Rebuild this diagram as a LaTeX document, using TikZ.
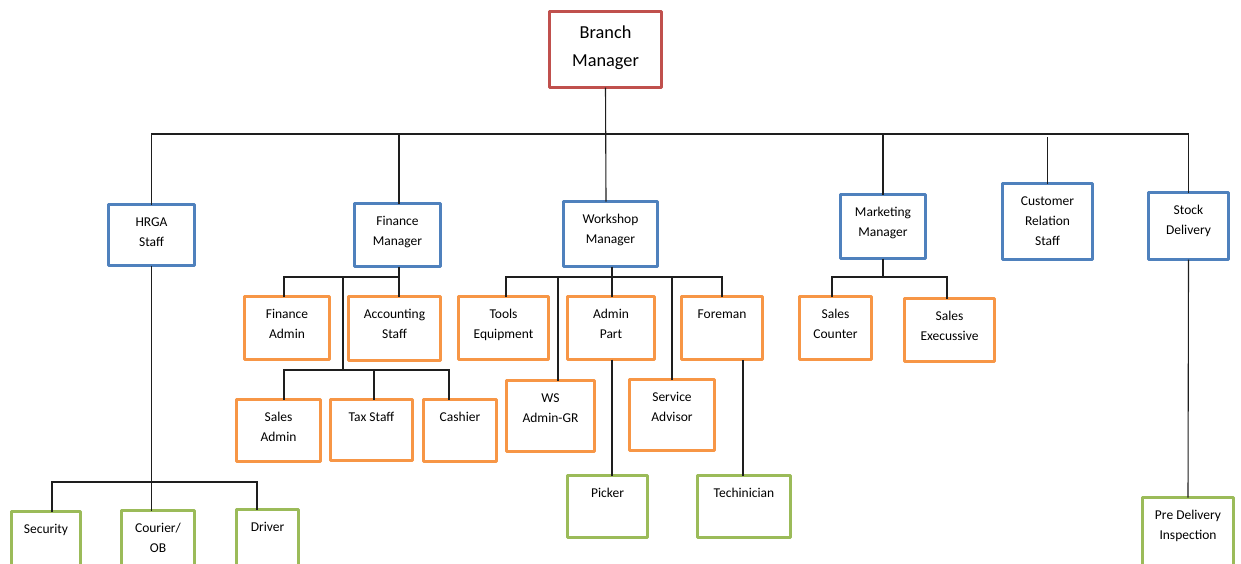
\documentclass[tikz,border=0pt]{standalone}
\usepackage{fontspec}
\setmainfont{Carlito}
\definecolor{cred}{RGB}{192,80,77}
\definecolor{cblue}{RGB}{79,129,189}
\definecolor{corange}{RGB}{247,150,70}
\definecolor{cgreen}{RGB}{155,187,89}
\definecolor{cline}{RGB}{30,30,30}
\newcommand\toppad{7.8pt}
\newcommand\orgbox[7]{%
  \pgfmathsetmacro\bw{#5-#3-3}\pgfmathsetmacro\bh{#6-#4-3}%
  \node[#2] (#1) at ({(#3+#5)/2},{(#4+#6)/2})
    {\parbox[c][\bh pt][t]{\bw pt}{\centering\vspace*{\toppad}\strut #7}};}
\tikzset{
  basebox/.style={draw, line width=3pt, line join=round, inner sep=0pt, outer sep=0pt,
    fill=white, text=black, font=\fontsize{13.5}{20}\selectfont},
  redbox/.style={basebox, draw=cred, font=\fontsize{18.3}{28}\selectfont},
  bluebox/.style={basebox, draw=cblue},
  orangebox/.style={basebox, draw=corange},
  greenbox/.style={basebox, draw=cgreen},
  conn/.style={draw=cline, line width=1.1pt}
}
\begin{document}
\begin{tikzpicture}[x=1pt,y=-1pt]
\useasboundingbox (0,0) rectangle (1241,563);
\fill[white] (0,0) rectangle (1241,563);
% junction coordinates
\coordinate (bus) at (0,134);
\coordinate (fbus) at (0,277);
\coordinate (fj2) at (343,370);
\coordinate (fj1) at (343,277);
\coordinate (hbus) at (0,482);
% boxes
\orgbox{bm}{redbox}{548}{10}{663}{89}{Branch\\Manager}
\orgbox{hr}{bluebox}{107}{203}{196}{267}{HRGA\\Staff}
\orgbox{fm}{bluebox}{353}{202}{442}{268}{Finance\\Manager}
\orgbox{wm}{bluebox}{562}{200}{659}{268}{Workshop\\Manager}
\orgbox{mm}{bluebox}{839}{193}{927}{260}{Marketing\\Manager}
\orgbox{cr}{bluebox}{1001}{182}{1094}{261}{Customer\\Relation\\Staff}
\orgbox{sd}{bluebox}{1147}{191}{1230}{261}{Stock\\Delivery}
\orgbox{fa}{orangebox}{243}{295}{331}{361}{Finance\\Admin}
\orgbox{as}{orangebox}{347}{295}{442}{362}{Accounting\\Staff}
\orgbox{sa}{orangebox}{235}{398}{322}{463}{Sales\\Admin}
\orgbox{ts}{orangebox}{329}{398}{414}{462}{Tax Staff}
\orgbox{ca}{orangebox}{422}{398}{498}{463}{Cashier}
\orgbox{te}{orangebox}{457}{295}{550}{361}{Tools\\Equipment}
\orgbox{ap}{orangebox}{566}{295}{656}{361}{Admin\\Part}
\orgbox{fo}{orangebox}{680}{295}{764}{361}{Foreman}
\orgbox{ws}{orangebox}{505}{379}{596}{453}{WS\\Admin-GR}
\orgbox{sv}{orangebox}{628}{378}{716}{452}{Service\\Advisor}
\orgbox{pk}{greenbox}{566}{474}{649}{539}{Picker}
\orgbox{tc}{greenbox}{696}{474}{792}{539}{Techinician}
\orgbox{sc}{orangebox}{798}{295}{873}{361}{Sales\\Counter}
\orgbox{se}{orangebox}{903}{297}{996}{363}{Sales\\Execussive}
\orgbox{pdi}{greenbox}{1141}{496}{1235}{575}{Pre Delivery\\Inspection}
\orgbox{sec}{greenbox}{10}{510}{82}{575}{Security}
\orgbox{co}{greenbox}{120}{509}{196}{575}{Courier/\\OB}
\orgbox{dr}{greenbox}{235}{508}{300}{575}{Driver}
% --- top level connectors
\draw[conn] (hr.north) -- (hr.north |- bus) -- (sd.north |- bus) -- (sd.north);
\draw[conn] (bm.south) -- ([xshift=-4.5pt]wm.north);
\draw[conn] ([xshift=1.5pt]fm.north) -- ([xshift=1.5pt]fm.north |- bus);
\draw[conn] (mm.north) -- (mm.north |- bus);
\draw[conn] (cr.north) -- ([yshift=-3pt]cr.north |- bus);
% finance
\draw[conn] ([xshift=1.5pt]fm.south) -- ([xshift=1.5pt]fm.south |- as.north);
\draw[conn] ([xshift=-3pt]fa.north) -- ([xshift=-3pt]fa.north |- fbus) -- ([xshift=1.5pt]fm.south |- fbus);
\draw[conn] (fj1) -- (fj2);
\draw[conn] ([xshift=5.5pt]sa.north) -- ([xshift=5.5pt]sa.north |- fj2) -- ([xshift=-11pt]ca.north |- fj2) -- ([xshift=-11pt]ca.north);
\draw[conn] ([xshift=2.5pt]ts.north) -- ([xshift=2.5pt]ts.north |- fj2);
% workshop
\draw[conn] ([xshift=1.5pt]wm.south) -- ([xshift=1.5pt]wm.south |- fbus);
\draw[conn] ([xshift=2.5pt]te.north) -- ([xshift=2.5pt]te.north |- fbus) -- (fo.north |- fbus) -- (fo.north);
\draw[conn] ([xshift=7.5pt]ws.north) -- ([xshift=7.5pt]ws.north |- fbus);
\draw[conn] ([xshift=1pt]ap.north) -- ([xshift=1pt]ap.north |- fbus);
\draw[conn] (sv.north) -- (sv.north |- fbus);
\draw[conn] ([xshift=1pt]ap.south) -- ([xshift=1pt]ap.south |- pk.north);
\draw[conn] ([xshift=-1pt]tc.north) -- ([xshift=-1pt]tc.north |- fo.south);
% marketing
\draw[conn] (mm.south) -- (mm.south |- fbus);
\draw[conn] ([xshift=-3.5pt]sc.north) -- ([xshift=-3.5pt]sc.north |- fbus) -- ([xshift=-2.5pt]se.north |- fbus) -- ([xshift=-2.5pt]se.north);
% stock
\draw[conn] (sd.south) -- (pdi.north);
% hrga
\draw[conn] (hr.south) -- (hr.south |- co.north);
\draw[conn] ([xshift=6pt]sec.north) -- ([xshift=6pt]sec.north |- hbus) -- ([xshift=-10.5pt]dr.north |- hbus) -- ([xshift=-10.5pt]dr.north);
\end{tikzpicture}
\end{document}
